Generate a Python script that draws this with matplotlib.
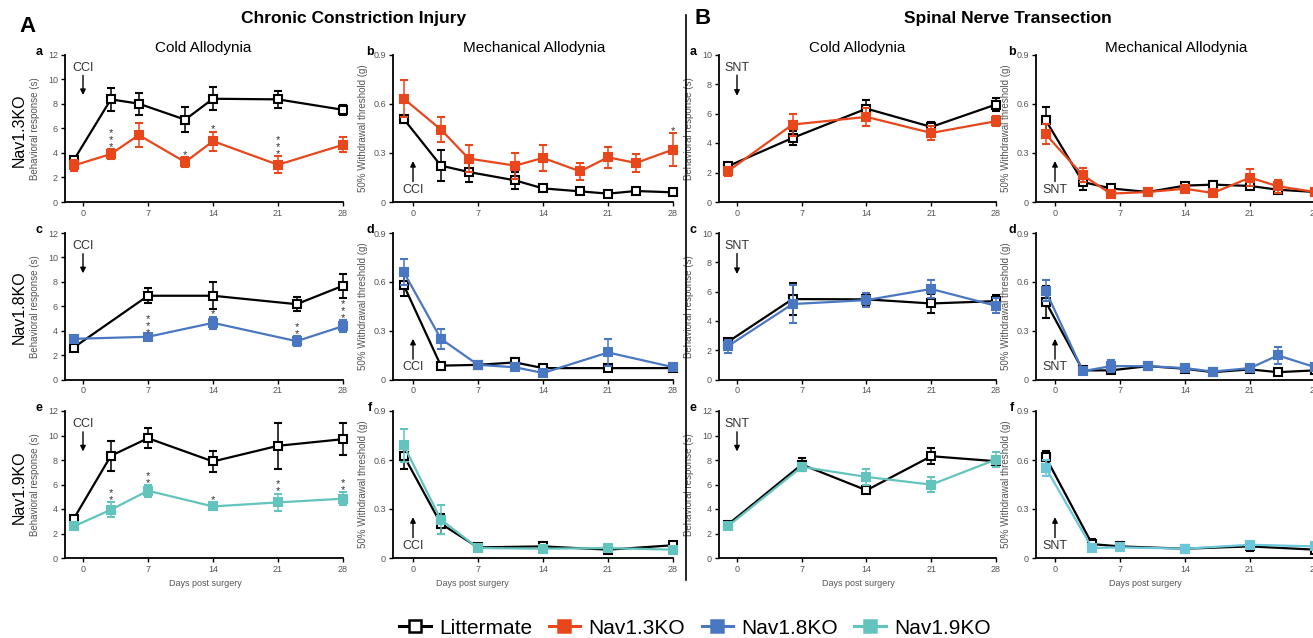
import matplotlib
matplotlib.use('Agg')
import matplotlib.pyplot as plt
from matplotlib.lines import Line2D

plt.rcParams['font.family'] = ['Liberation Sans', 'DejaVu Sans']

# ---------------- data ----------------
# A: Chronic Constriction Injury
A_a_days = [-1, 3, 6, 11, 14, 21, 28]
A_a_lm = [3.4, 8.35, 8.0, 6.7, 8.4, 8.35, 7.5]
A_a_lm_err = [0.2, 0.95, 0.9, 1.0, 0.95, 0.68, 0.4]
A_a_ko = [2.97, 3.9, 5.45, 3.25, 4.95, 3.03, 4.65]
A_a_ko_err = [0.45, 0.4, 0.95, 0.4, 0.77, 0.7, 0.6]
A_a_stars = [0, 3, 0, 1, 1, 3, 0]

A_b_days = [-1, 3, 6, 11, 14, 18, 21, 24, 28]
A_b_lm = [0.507, 0.222, 0.183, 0.132, 0.083, 0.065, 0.051, 0.067, 0.059]
A_b_lm_err = [0.025, 0.093, 0.058, 0.054, 0.012, 0.012, 0.01, 0.015, 0.01]
A_b_ko = [0.631, 0.442, 0.265, 0.222, 0.269, 0.187, 0.273, 0.238, 0.320]
A_b_ko_err = [0.111, 0.075, 0.08, 0.08, 0.077, 0.053, 0.065, 0.054, 0.10]
A_b_stars = [0, 0, 0, 0, 0, 0, 0, 0, 1]

A_c_days = [-1, 7, 14, 23, 28]
A_c_lm = [2.62, 6.86, 6.86, 6.17, 7.68]
A_c_lm_err = [0.1, 0.6, 1.12, 0.57, 1.0]
A_c_ko = [3.33, 3.5, 4.64, 3.14, 4.37]
A_c_ko_err = [0.05, 0.12, 0.5, 0.4, 0.5]
A_c_stars = [0, 3, 1, 2, 3]

A_d_days = [-1, 3, 7, 11, 14, 21, 28]
A_d_lm = [0.58, 0.085, 0.09, 0.105, 0.07, 0.07, 0.07]
A_d_lm_err = [0.07, 0.015, 0.01, 0.03, 0.01, 0.01, 0.01]
A_d_ko = [0.66, 0.25, 0.09, 0.075, 0.04, 0.166, 0.076]
A_d_ko_err = [0.08, 0.06, 0.015, 0.01, 0.01, 0.085, 0.02]

A_e_days = [-1, 3, 7, 14, 21, 28]
A_e_lm = [3.2, 8.34, 9.78, 7.88, 9.16, 9.7]
A_e_lm_err = [0.15, 1.24, 0.84, 0.82, 1.9, 1.3]
A_e_ko = [2.58, 3.94, 5.49, 4.21, 4.54, 4.84]
A_e_ko_err = [0.1, 0.6, 0.48, 0.3, 0.72, 0.53]
A_e_stars = [0, 2, 2, 1, 2, 2]

A_f_days = [-1, 3, 7, 14, 21, 28]
A_f_lm = [0.627, 0.21, 0.065, 0.071, 0.051, 0.078]
A_f_lm_err = [0.08, 0.06, 0.01, 0.01, 0.01, 0.01]
A_f_ko = [0.69, 0.235, 0.061, 0.057, 0.061, 0.051]
A_f_ko_err = [0.1, 0.09, 0.01, 0.01, 0.01, 0.01]

# B: Spinal Nerve Transection
B_a_days = [-1, 6, 14, 21, 28]
B_a_lm = [2.42, 4.34, 6.33, 5.09, 6.61]
B_a_lm_err = [0.12, 0.47, 0.57, 0.35, 0.43]
B_a_ko = [2.08, 5.25, 5.77, 4.68, 5.48]
B_a_ko_err = [0.29, 0.75, 0.6, 0.47, 0.36]

B_b_days = [-1, 3, 6, 10, 14, 17, 21, 24, 28]
B_b_lm = [0.499, 0.122, 0.083, 0.061, 0.10, 0.106, 0.098, 0.075, 0.061]
B_b_lm_err = [0.08, 0.048, 0.015, 0.01, 0.015, 0.02, 0.015, 0.015, 0.01]
B_b_ko = [0.413, 0.163, 0.051, 0.061, 0.081, 0.055, 0.149, 0.096, 0.061]
B_b_ko_err = [0.06, 0.043, 0.01, 0.01, 0.015, 0.01, 0.05, 0.04, 0.01]

B_c_days = [-1, 6, 14, 21, 28]
B_c_lm = [2.56, 5.49, 5.47, 5.19, 5.35]
B_c_lm_err = [0.15, 1.09, 0.43, 0.62, 0.4]
B_c_ko = [2.27, 5.15, 5.42, 6.18, 5.03]
B_c_ko_err = [0.43, 1.3, 0.5, 0.63, 0.5]

B_d_days = [-1, 3, 6, 10, 14, 17, 21, 24, 28]
B_d_lm = [0.477, 0.056, 0.056, 0.082, 0.066, 0.045, 0.062, 0.045, 0.056]
B_d_lm_err = [0.1, 0.01, 0.01, 0.015, 0.01, 0.01, 0.01, 0.01, 0.01]
B_d_ko = [0.545, 0.051, 0.082, 0.082, 0.07, 0.049, 0.07, 0.148, 0.076]
B_d_ko_err = [0.065, 0.01, 0.035, 0.015, 0.01, 0.01, 0.01, 0.05, 0.02]

B_e_days = [-1, 7, 14, 21, 28]
B_e_lm = [2.72, 7.63, 5.53, 8.31, 7.9]
B_e_lm_err = [0.2, 0.5, 0.2, 0.65, 0.37]
B_e_ko = [2.59, 7.44, 6.62, 5.99, 8.04]
B_e_ko_err = [0.2, 0.15, 0.63, 0.6, 0.6]

B_f_days = [-1, 4, 7, 14, 21, 28]
B_f_lm = [0.617, 0.085, 0.071, 0.057, 0.071, 0.051]
B_f_lm_err = [0.04, 0.03, 0.01, 0.01, 0.03, 0.01]
B_f_ko = [0.552, 0.061, 0.065, 0.057, 0.081, 0.071]
B_f_ko_err = [0.05, 0.01, 0.01, 0.01, 0.015, 0.01]

x_ticks = [0, 7, 14, 21, 28]
cold_ticks_12 = [0, 2, 4, 6, 8, 10, 12]
cold_ticks_10 = [0, 2, 4, 6, 8, 10]
mech_ticks = [0, 0.3, 0.6, 0.9]
mech_labels = ['0', '0.3', '0.6', '0.9']

row_labels = ['Nav1.3KO', 'Nav1.8KO', 'Nav1.9KO']
legend_labels = ['Littermate', 'Nav1.3KO', 'Nav1.8KO', 'Nav1.9KO']

C_LM = 'black'
C_13 = '#e8471c'
C_18 = '#4a77c2'
C_19 = '#63c3bd'
C_19b = '#6cc6da'

# ---------------- figure ----------------
W, H = 1313, 638
fig = plt.figure(figsize=(W / 100, H / 100), dpi=100)

col_left = [65, 393, 719, 1036]
col_zero = [83, 413, 737, 1055]
col_right = [343, 673, 996, 1315]
row_top = [54.5, 233, 411]
row_bot = [202, 379.5, 558]


def make_ax(r, c, ylim, yticks, ylabels, ylabel):
    l, rr = col_left[c], col_right[c]
    t, b = row_top[r], row_bot[r]
    ax = fig.add_axes([l / W, 1 - b / H, (rr - l) / W, (b - t) / H])
    ppd = (rr - col_zero[c]) / 28.0
    x0 = -(col_zero[c] - l) / ppd
    ax.set_xlim(x0, 28)
    ax.set_ylim(*ylim)
    ax.set_xticks(x_ticks)
    ax.set_yticks(yticks)
    if ylabels is not None:
        ax.set_yticklabels(ylabels)
    for s in ['top', 'right']:
        ax.spines[s].set_visible(False)
    for s in ['left', 'bottom']:
        ax.spines[s].set_linewidth(1.3)
    ax.tick_params(direction='out', length=3, width=1, labelsize=6.5,
                   labelcolor='#555555', pad=2)
    ax.set_ylabel(ylabel, fontsize=7, color='#555555')
    ax.yaxis.set_label_coords(-25 / (rr - l), 0.5)
    ax.patch.set_alpha(0)
    return ax


def series(ax, x, y, err, color, open_m, z):
    ax.errorbar(x, y, yerr=err, color=color, lw=1.6, marker='s', ms=6.3,
                mfc='white' if open_m else color, mec=color, mew=1.5,
                capsize=3, elinewidth=1.1, capthick=1.1, zorder=z,
                clip_on=False)


def stars(ax, x, y, err, counts):
    for xi, yi, ei, n in zip(x, y, err, counts):
        if n == 0:
            continue
        ax.annotate('\n'.join(['*'] * n), xy=(xi, yi + ei), xytext=(0, -2),
                    textcoords='offset points', ha='center', va='bottom',
                    fontsize=8, linespacing=0.62, color='#333333', zorder=6)


def arrow_down(ax, label, ytxt, ytail, yhead):
    ax.annotate('', xy=(0, yhead), xytext=(0, ytail),
                arrowprops=dict(arrowstyle='-|>', color='black', lw=1,
                                mutation_scale=8, shrinkA=0, shrinkB=0))
    ax.text(0, ytxt, label, ha='center', va='center', fontsize=9, color='#333333')


cold_lab = 'Behavioral response (s)'
mech_lab = '50% Withdrawal threshold (g)'

panels = [
    # r, c, ylim, ticks, labels, ylabel, days, lm, lmerr, ko, koerr, color, stars
    (0, 0, (0, 12), cold_ticks_12, None, cold_lab, A_a_days, A_a_lm, A_a_lm_err, A_a_ko, A_a_ko_err, C_13, A_a_stars),
    (0, 1, (0, 0.9), mech_ticks, mech_labels, mech_lab, A_b_days, A_b_lm, A_b_lm_err, A_b_ko, A_b_ko_err, C_13, A_b_stars),
    (1, 0, (0, 12), cold_ticks_12, None, cold_lab, A_c_days, A_c_lm, A_c_lm_err, A_c_ko, A_c_ko_err, C_18, A_c_stars),
    (1, 1, (0, 0.9), mech_ticks, mech_labels, mech_lab, A_d_days, A_d_lm, A_d_lm_err, A_d_ko, A_d_ko_err, C_18, None),
    (2, 0, (0, 12), cold_ticks_12, None, cold_lab, A_e_days, A_e_lm, A_e_lm_err, A_e_ko, A_e_ko_err, C_19, A_e_stars),
    (2, 1, (0, 0.9), mech_ticks, mech_labels, mech_lab, A_f_days, A_f_lm, A_f_lm_err, A_f_ko, A_f_ko_err, C_19, None),
    (0, 2, (0, 10), cold_ticks_10, None, cold_lab, B_a_days, B_a_lm, B_a_lm_err, B_a_ko, B_a_ko_err, C_13, None),
    (0, 3, (0, 0.9), mech_ticks, mech_labels, mech_lab, B_b_days, B_b_lm, B_b_lm_err, B_b_ko, B_b_ko_err, C_13, None),
    (1, 2, (0, 10), cold_ticks_10, None, cold_lab, B_c_days, B_c_lm, B_c_lm_err, B_c_ko, B_c_ko_err, C_18, None),
    (1, 3, (0, 0.9), mech_ticks, mech_labels, mech_lab, B_d_days, B_d_lm, B_d_lm_err, B_d_ko, B_d_ko_err, C_18, None),
    (2, 2, (0, 12), cold_ticks_12, None, cold_lab, B_e_days, B_e_lm, B_e_lm_err, B_e_ko, B_e_ko_err, C_19, None),
    (2, 3, (0, 0.9), mech_ticks, mech_labels, mech_lab, B_f_days, B_f_lm, B_f_lm_err, B_f_ko, B_f_ko_err, C_19b, None),
]

for (r, c, ylim, yt, yl, ylab, d, lm, lme, ko, koe, col, st) in panels:
    ax = make_ax(r, c, ylim, yt, yl, ylab)
    series(ax, d, lm, lme, C_LM, True, 3)
    series(ax, d, ko, koe, col, False, 4)
    if st is not None:
        stars(ax, d, ko, koe, st)
    lab = 'CCI' if c < 2 else 'SNT'
    if c in (1, 3):
        ax.annotate('', xy=(0, 0.25), xytext=(0, 0.125),
                    arrowprops=dict(arrowstyle='-|>', color='black', lw=1,
                                    mutation_scale=8, shrinkA=0, shrinkB=0))
        ax.text(0, 0.075, lab, ha='center', va='center', fontsize=9, color='#333333')
    elif ylim[1] == 12:
        arrow_down(ax, lab, 10.9, 10.3, 8.7)
    else:
        arrow_down(ax, lab, 9.1, 8.6, 7.2)


def ftext(x, y, s, **kw):
    fig.text(x / W, 1 - y / H, s, **kw)


# titles
for cx in [203, 857]:
    ftext(cx, 48, 'Cold Allodynia', ha='center', va='center', fontsize=11)
for cx in [534, 1176]:
    ftext(cx, 48, 'Mechanical Allodynia', ha='center', va='center', fontsize=11)

ftext(354, 19, 'Chronic Constriction Injury', ha='center', va='center',
      fontsize=12.5, fontweight='bold')
ftext(1008, 19, 'Spinal Nerve Transection', ha='center', va='center',
      fontsize=12.5, fontweight='bold')
ftext(28, 27, 'A', ha='center', va='center', fontsize=16, fontweight='bold')
ftext(703, 19, 'B', ha='center', va='center', fontsize=16, fontweight='bold')

# panel letters
letters = [['a', 'b', 'a', 'b'], ['c', 'd', 'c', 'd'], ['e', 'f', 'e', 'f']]
lx = [39, 370, 693, 1012]
ly = [52, 230, 408]
for r in range(3):
    for c in range(4):
        ftext(lx[c], ly[r], letters[r][c], ha='center', va='center',
              fontsize=9, fontweight='bold')

# row labels
for y, s in zip([130, 307, 487], row_labels):
    ftext(19, y, s, ha='center', va='center', rotation=90, fontsize=11.5)

# x labels
for cx in [205, 472, 858, 1145]:
    ftext(cx, 583, 'Days post surgery', ha='center', va='center',
          fontsize=6.5, color='#555555')

# divider
fig.add_artist(Line2D([686 / W, 686 / W], [1 - 15 / H, 1 - 580 / H],
                      color='black', lw=1.2))

# legend
handles = []
for col, op in [(C_LM, True), (C_13, False), (C_18, False), (C_19, False)]:
    handles.append(Line2D([0], [0], color=col, lw=2.2, marker='s', ms=8,
                          mfc='white' if op else col, mec=col, mew=1.8))
fig.legend(handles, legend_labels, loc='center', ncol=4,
           bbox_to_anchor=(695 / W, 1 - 628 / H), frameon=False,
           fontsize=15, handlelength=1.5, columnspacing=0.8,
           handletextpad=0.4)

fig.savefig('out.png', dpi=100)
